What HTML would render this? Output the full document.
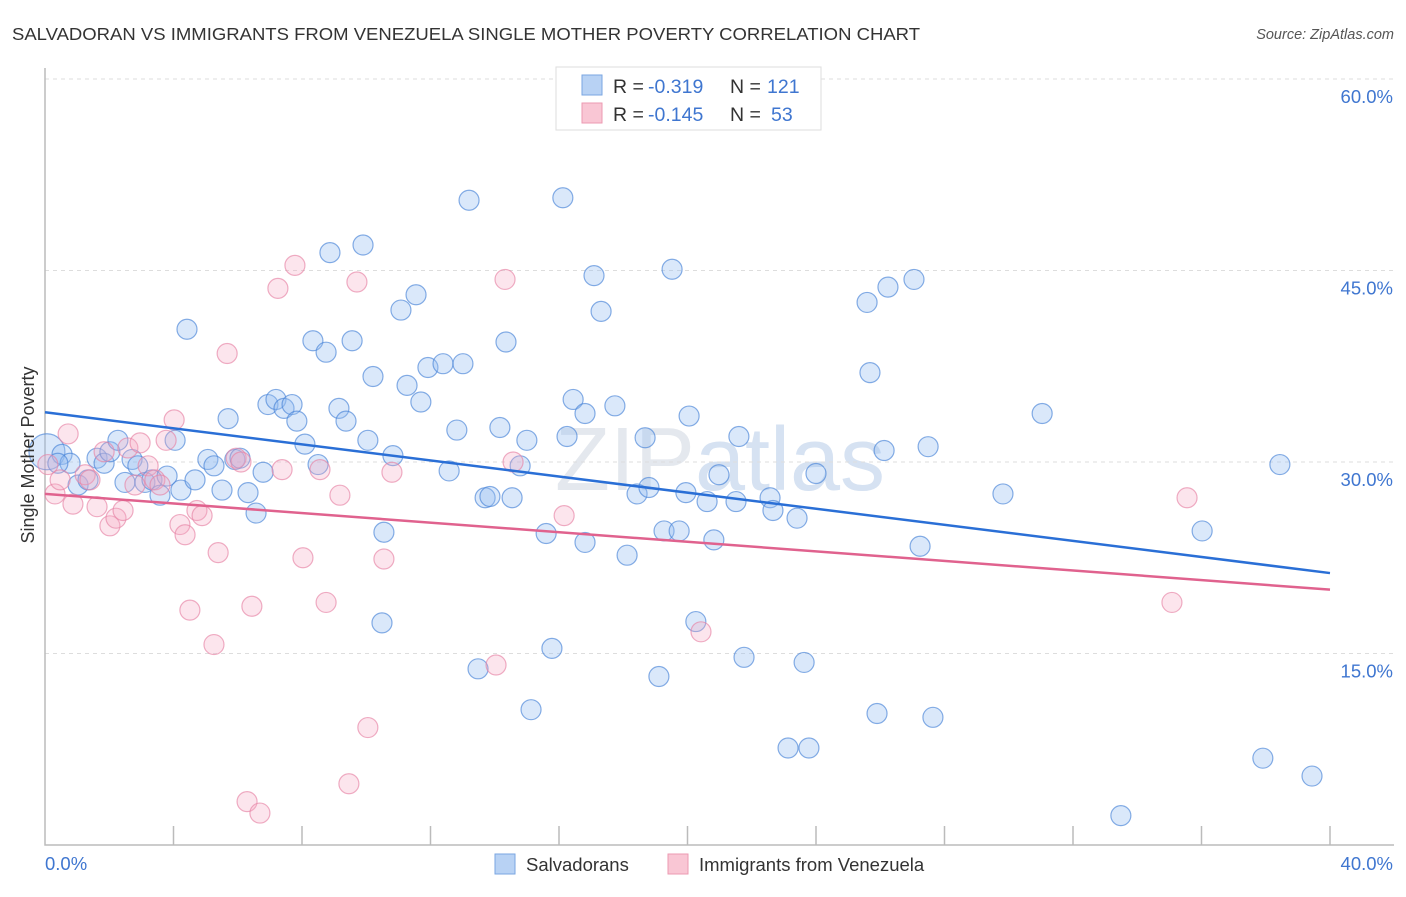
<!DOCTYPE html>
<html><head><meta charset="utf-8">
<style>
body{margin:0;background:#fff;font-family:"Liberation Sans",sans-serif;}
svg text{font-family:"Liberation Sans",sans-serif;}
</style></head>
<body>
<svg id="chart" width="1406" height="892" xmlns="http://www.w3.org/2000/svg">
<text x="12" y="40" font-size="17.5" fill="#333" textLength="908" lengthAdjust="spacingAndGlyphs">SALVADORAN VS IMMIGRANTS FROM VENEZUELA SINGLE MOTHER POVERTY CORRELATION CHART</text>
<text x="1394" y="39" font-size="14.5" fill="#555" font-style="italic" text-anchor="end">Source: ZipAtlas.com</text>
<text x="720" y="490" font-size="90" fill="#e4e8ee" text-anchor="middle" font-family="Liberation Serif">ZIP<tspan fill="#d6e2f2" font-family="Liberation Sans">atlas</tspan></text>
<g id="grid"></g>
<g id="axes"></g>
<g id="pts"></g>
<g id="lines"></g>
<text transform="translate(34,455) rotate(-90)" font-size="18" fill="#333" text-anchor="middle">Single Mother Poverty</text>
<g>
<rect x="556" y="67" width="265" height="63" fill="#fff" stroke="#ddd"/>
<rect x="582" y="75" width="20" height="20" fill="#b8d2f4" stroke="#7aa6e2"/>
<rect x="582" y="103" width="20" height="20" fill="#f9c6d4" stroke="#ec9ab2"/>
<text x="613" y="93" font-size="19.5" fill="#333">R = </text>
<text x="648" y="93" font-size="19.5" fill="#3f76d0">-0.319</text>
<text x="730" y="93" font-size="19.5" fill="#333">N = </text>
<text x="767" y="93" font-size="19.5" fill="#3f76d0">121</text>
<text x="613" y="121" font-size="19.5" fill="#333">R = </text>
<text x="648" y="121" font-size="19.5" fill="#3f76d0">-0.145</text>
<text x="730" y="121" font-size="19.5" fill="#333">N = </text>
<text x="771" y="121" font-size="19.5" fill="#3f76d0">53</text>
</g>
<g>
<rect x="495" y="854" width="20" height="20" fill="#b8d2f4" stroke="#7aa6e2"/>
<text x="526" y="871" font-size="18.5" fill="#333">Salvadorans</text>
<rect x="668" y="854" width="20" height="20" fill="#f9c6d4" stroke="#ec9ab2"/>
<text x="699" y="871" font-size="18.5" fill="#333">Immigrants from Venezuela</text>
</g>
</svg>
<script>
const yTicks=[15,30,45,60];
const yTickLabels=["15.0%","30.0%","45.0%","60.0%"];
const xTickLabels=["0.0%","40.0%"];
const blueX=[0.06,0.53,0.78,0.40,1.03,1.34,1.62,1.84,2.02,2.27,2.49,2.71,2.89,3.11,3.33,3.58,3.80,4.05,4.23,4.42,4.67,5.07,5.26,5.51,5.70,5.91,6.07,6.32,6.57,6.79,6.94,7.19,7.44,7.69,7.84,8.09,8.34,8.50,8.75,8.87,9.15,9.37,9.56,9.90,10.05,10.21,10.55,10.49,10.83,11.08,11.27,11.55,11.70,11.92,12.39,12.58,12.82,13.01,13.20,13.48,13.70,13.85,14.16,14.35,14.54,14.79,15.00,15.13,15.60,15.78,16.12,16.25,16.44,16.81,16.81,17.09,17.31,17.74,18.12,18.43,18.68,18.80,19.11,19.27,19.52,19.74,19.95,20.05,20.26,20.61,20.82,20.98,21.51,21.60,21.76,22.57,22.66,23.13,23.41,23.63,23.78,24.00,25.59,25.68,25.90,26.12,26.24,27.05,27.24,27.49,27.64,29.82,31.04,33.49,36.02,37.91,38.44,39.44];
const blueY=[30.8,30.6,29.9,29.9,28.2,28.6,30.3,29.9,30.8,31.7,28.4,30.2,29.7,28.4,28.6,27.4,28.9,31.7,27.8,40.4,28.6,30.2,29.7,27.8,33.4,30.2,30.3,27.6,26.0,29.2,34.5,34.9,34.2,34.5,33.2,31.4,39.5,29.8,38.6,46.4,34.2,33.2,39.5,47.0,31.7,36.7,24.5,17.4,30.5,41.9,36.0,43.1,34.7,37.4,37.7,29.3,32.5,37.7,50.5,13.8,27.2,27.3,32.7,39.4,27.2,29.7,31.7,10.6,24.4,15.4,50.7,32.0,34.9,23.7,33.8,44.6,41.8,34.4,22.7,27.5,31.9,28.0,13.2,24.6,45.1,24.6,27.6,33.6,17.5,26.9,23.9,29.0,26.9,32.0,14.7,27.2,26.2,7.6,25.6,14.3,7.6,29.1,42.5,37.0,10.3,30.9,43.7,44.3,23.4,31.2,10.0,27.5,33.8,2.3,24.6,6.8,29.8,5.4];
const pinkX=[0.09,0.31,0.47,0.72,0.87,1.25,1.40,1.62,1.84,2.02,2.21,2.43,2.58,2.80,2.96,3.21,3.42,3.58,3.77,4.02,4.20,4.36,4.51,4.73,4.89,5.26,5.39,5.67,5.95,6.10,6.29,6.44,6.69,7.25,7.38,7.78,8.03,8.56,8.75,9.18,9.46,9.71,10.05,10.55,10.80,14.04,14.32,14.57,16.16,20.42,35.08,35.55];
const pinkY=[29.8,27.5,28.6,32.2,26.7,29.0,28.6,26.5,30.8,25.0,25.6,26.2,31.1,28.2,31.5,29.7,28.6,28.2,31.7,33.3,25.1,24.3,18.4,26.2,25.8,15.7,22.9,38.5,30.3,30.0,3.4,18.7,2.5,43.6,29.4,45.4,22.5,29.4,19.0,27.4,4.8,44.1,9.2,22.4,29.2,14.1,44.3,30.0,25.8,16.7,19.0,27.2];
const blueTrend=[33.9,21.3];
const pinkTrend=[27.5,20.0];
const X0=45,X1=1330,Y0=845,YTOP=79;
const xs=v=>X0+v/40*(X1-X0);
const ys=v=>Y0-v/60*(Y0-YTOP);
const NS="http://www.w3.org/2000/svg";
function mk(tag,attrs,parent){const e=document.createElementNS(NS,tag);for(const k in attrs)e.setAttribute(k,attrs[k]);document.getElementById(parent).appendChild(e);return e;}
yTicks.forEach((t,i)=>{
 const g=mk('line',{x1:X0,x2:1394,y1:ys(t),y2:ys(t),stroke:'#ddd','stroke-dasharray':'4,4'},'grid');
 
 
 const tx=mk('text',{x:1393,y:ys(t)+24,'font-size':18.5,fill:'#3f76d0','text-anchor':'end'},'grid');
 tx.textContent=yTickLabels[i];
 
 
});
const ax=mk('path',{d:`M${X0} 68V${Y0}H1394`,stroke:'#bbb',fill:'none','stroke-width':1.5},'axes');


for(let i=1;i<=10;i++){
 const t=mk('line',{x1:xs(i*4),x2:xs(i*4),y1:826,y2:Y0,stroke:'#bbb','stroke-width':1.5},'axes');
 
 
}
[[0,'start',X0],[40,'end',1393]].forEach((a,i)=>{
 const t=mk('text',{x:a[2],y:870,'font-size':18.5,fill:'#3f76d0','text-anchor':a[1]},'axes');
 t.textContent=xTickLabels[i];
 
 
});
blueX.forEach((v,i)=>{
 const c=mk('circle',{cx:xs(v),cy:ys(blueY[i]),r:i==0?18:10,fill:'rgba(150,190,240,0.35)',stroke:'rgba(70,130,215,0.65)','stroke-width':1.2},'pts');
 
 
});
pinkX.forEach((v,i)=>{
 const c=mk('circle',{cx:xs(v),cy:ys(pinkY[i]),r:10,fill:'rgba(245,170,195,0.3)',stroke:'rgba(230,130,165,0.65)','stroke-width':1.2},'pts');
 
 
});
const bl=mk('line',{x1:xs(0),x2:xs(40),y1:ys(blueTrend[0]),y2:ys(blueTrend[1]),stroke:'#2a6fd6','stroke-width':2.5},'lines');


const pl=mk('line',{x1:xs(0),x2:xs(40),y1:ys(pinkTrend[0]),y2:ys(pinkTrend[1]),stroke:'#e0628e','stroke-width':2.5},'lines');


</script>
</body></html>
